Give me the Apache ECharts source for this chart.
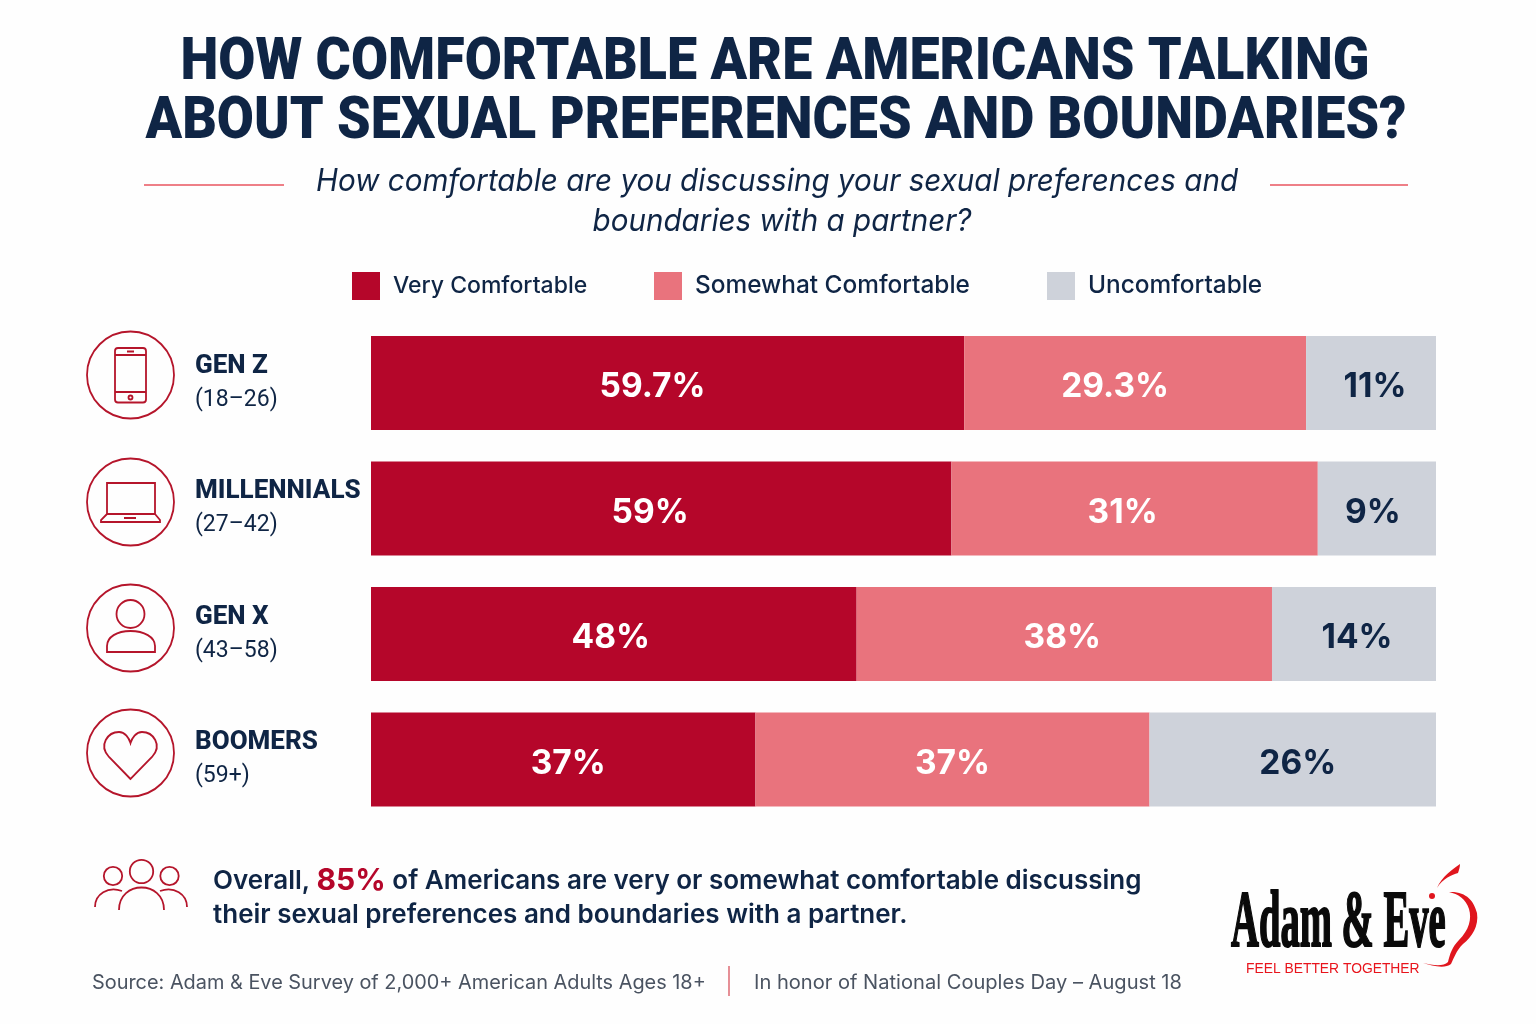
<!DOCTYPE html>
<html><head><meta charset="utf-8">
<style>html,body{margin:0;padding:0;background:#fff}#c{width:1536px;height:1024px}</style>
<script src="https://cdn.jsdelivr.net/npm/echarts@6/dist/echarts.min.js"></script>
</head><body><div id="c"></div>
<script>
const categories = ['GEN Z', 'MILLENNIALS', 'GEN X', 'BOOMERS'];
const ageRanges = ['(18–26)', '(27–42)', '(43–58)', '(59+)'];
const seriesNames = ['Very Comfortable', 'Somewhat Comfortable', 'Uncomfortable'];
// Segment lengths as drawn in the picture (share of the full bar)
const veryLengths = [55.7, 54.5, 45.6, 36.1];
const somewhatLengths = [32.1, 34.4, 39.0, 37.0];
const uncomfortableLengths = [12.2, 11.1, 15.4, 26.9];
// Percentages as printed on the bars
const veryLabels = ['59.7%', '59%', '48%', '37%'];
const somewhatLabels = ['29.3%', '31%', '38%', '37%'];
const uncomfortableLabels = ['11%', '9%', '14%', '26%'];

const veryShift = [-15, -11, -3, 5];
const somewhatShift = [-20, -12, -2, 0];
const uncomfortableShift = [4, -4, 3, 5];

const NAVY = '#0F2545', RED = '#B5062A', MID = '#E9737D', GREY = '#CED2DA', LINE = '#B5152B', LOGO = '#E0161E';
const chart = echarts.init(document.getElementById('c'), null, {width: 1536, height: 1024});

function seriesOf(i, lengths, labels, shift, color, labelColor) {
  return {
    name: seriesNames[i], type: 'bar', stack: 'all', barWidth: 94,
    itemStyle: {color},
    data: lengths.map((v, k) => ({
      value: v,
      label: {show: true, position: 'inside', offset: [shift[k], 4], formatter: labels[k],
        color: labelColor, fontFamily: 'Inter', fontWeight: 700, fontSize: 33.5}
    }))
  };
}
const stroke = {fill: 'none', stroke: LINE, lineWidth: 1.8};
let shapeCount = 0;
const rawPath = (d, s) => {
  const name = 'iconPath' + (shapeCount++);
  echarts.graphic.registerShape(name, echarts.graphic.extendPath(d, {}));
  return {type: name, style: Object.assign({}, stroke, s || {})};
};
const circle = (cx, cy, r, s) => ({type: 'circle', shape: {cx, cy, r}, style: Object.assign({}, stroke, s || {})});
const txt = (x, y, text, o, scaleX) => ({type: 'text', x, y, scaleX: scaleX || 1,
  style: Object.assign({text, verticalAlign: 'middle', fill: NAVY, fontFamily: 'Inter'}, o)});
const titleFont = {textAlign: 'center', fontFamily: 'Roboto', fontWeight: 900, fontSize: 59};
const subFont = {textAlign: 'center', fontStyle: 'italic', fontSize: 31};
const legendOf = (name, left, fontSize) => ({
  left, top: 267, itemWidth: 28, itemHeight: 28, icon: 'rect', data: [name], selectedMode: false,
  textStyle: {color: NAVY, fontFamily: 'Inter', fontWeight: 500, fontSize, padding: [7, 0, 0, 8]}
});

const graphics = [
  txt(775, 64, 'HOW COMFORTABLE ARE AMERICANS TALKING', titleFont, 0.912),
  txt(776, 123, 'ABOUT SEXUAL PREFERENCES AND BOUNDARIES?', titleFont, 0.912),
  txt(777, 182, 'How comfortable are you discussing your sexual preferences and', subFont, 0.955),
  txt(782, 222, 'boundaries with a partner?', subFont, 0.955),
  {type: 'line', shape: {x1: 144, y1: 185, x2: 284, y2: 185}, style: {stroke: '#E8555F', lineWidth: 1.5}},
  {type: 'line', shape: {x1: 1270, y1: 185, x2: 1408, y2: 185}, style: {stroke: '#E8555F', lineWidth: 1.5}},
  // row icons
  circle(130.5, 375, 43.5), circle(130.5, 502, 43.5), circle(130.5, 628, 43.5), circle(130.5, 753, 43.5),
  {type: 'rect', shape: {x: 115, y: 348, width: 31, height: 54.5, r: 3}, style: Object.assign({}, stroke)},
  rawPath('M115 355H146M115 392H146M127 351.5H134'),
  circle(130.5, 397.5, 2),
  {type: 'rect', shape: {x: 107, y: 483, width: 48, height: 31}, style: Object.assign({}, stroke)},
  rawPath('M107 514L101 520V522H160V520L155 514M124 518H136'),
  circle(130.5, 614, 14),
  rawPath('M107 652V646C107 637 117 631 130.5 631C144 631 155 637 155 646V652Z'),
  rawPath('M130.5 779L109 757C98 745 108 732 119 732C125 732 129 738 130.5 743C132 738 136 732 142 732C153 732 163 745 152 757Z'),
  // people icon
  circle(113, 876, 9.2), circle(141.5, 871.5, 11.7), circle(169.5, 876, 9.2),
  rawPath('M119 910C119 880 164 880 164 910M95 907C95 894 108 886 122 891M160 891C174 886 187 894 187 907'),
  // takeaway
  {type: 'text', x: 213, y: 898, style: {
    text: '{a|Overall, }{b|85%}{a| of Americans are very or somewhat comfortable discussing}\n{a|their sexual preferences and boundaries with a partner.}',
    verticalAlign: 'middle',
    rich: {
      a: {fontFamily: 'Inter', fontWeight: 600, fontSize: 26, fill: NAVY, lineHeight: 34},
      b: {fontFamily: 'Inter', fontWeight: 700, fontSize: 30, fill: RED, lineHeight: 34}
    }}},
  // footer
  txt(92, 983, 'Source: Adam & Eve Survey of 2,000+ American Adults Ages 18+', {fontSize: 19.9, fill: '#4A5361'}),
  {type: 'line', shape: {x1: 729, y1: 966, x2: 729, y2: 996}, style: {stroke: '#D9545F', lineWidth: 1.3}},
  txt(754, 983, 'In honor of National Couples Day – August 18', {fontSize: 20.1, fill: '#4A5361'}),
  // logo
  txt(1231, 925, 'Adam & Eve', {fontFamily: 'Liberation Serif', fontWeight: 700, fontSize: 80, fill: '#0A0A0A', stroke: '#0A0A0A', lineWidth: 2}, 0.483),
  txt(1246, 969, 'FEEL BETTER TOGETHER', {fontFamily: 'Liberation Sans', fontSize: 13.85, fill: '#E8141C'}),
  rawPath('M1460 864C1453 869 1442 876 1437 888C1443 878 1452 875 1458 873C1459 870 1460 867 1460 864Z', {fill: LOGO, stroke: 'none'}),
  circle(1432, 896, 3, {fill: LOGO, stroke: 'none'}),
  rawPath('M1449 892C1466 891 1474 901 1477 913C1479 926 1472 937 1463 944C1456 951 1454 958 1451 964C1445 969 1432 966 1423 963C1432 965 1443 967 1448 962C1450 954 1452 947 1459 940C1469 930 1472 919 1469 909C1466 899 1458 894 1449 892Z', {fill: LOGO, stroke: 'none'})
];

chart.setOption({
  animation: false,
  backgroundColor: '#FEFEFE',
  legend: [
    legendOf(seriesNames[0], 347, 23),
    legendOf(seriesNames[1], 649, 24.4),
    legendOf(seriesNames[2], 1042, 24.4)
  ],
  grid: {left: 371, top: 320.3, width: 1065, height: 502, containLabel: false},
  xAxis: {type: 'value', min: 0, max: 100, show: false},
  yAxis: {
    type: 'category', inverse: true, data: categories,
    axisLine: {show: false}, axisTick: {show: false},
    axisLabel: {
      margin: 176, align: 'left', interval: 0,
      formatter: (v, i) => '{n|' + v + '}\n{a|' + ageRanges[i] + '}',
      rich: {
        n: {fontFamily: 'Roboto', fontWeight: 800, fontSize: 26, color: NAVY, lineHeight: 34, align: 'left'},
        a: {fontFamily: 'Roboto', fontWeight: 400, fontSize: 23, color: NAVY, lineHeight: 34, align: 'left'}
      }
    }
  },
  series: [
    seriesOf(0, veryLengths, veryLabels, veryShift, RED, '#fff'),
    seriesOf(1, somewhatLengths, somewhatLabels, somewhatShift, MID, '#fff'),
    seriesOf(2, uncomfortableLengths, uncomfortableLabels, uncomfortableShift, GREY, NAVY)
  ],
  graphic: {elements: graphics}
});
</script></body></html>
